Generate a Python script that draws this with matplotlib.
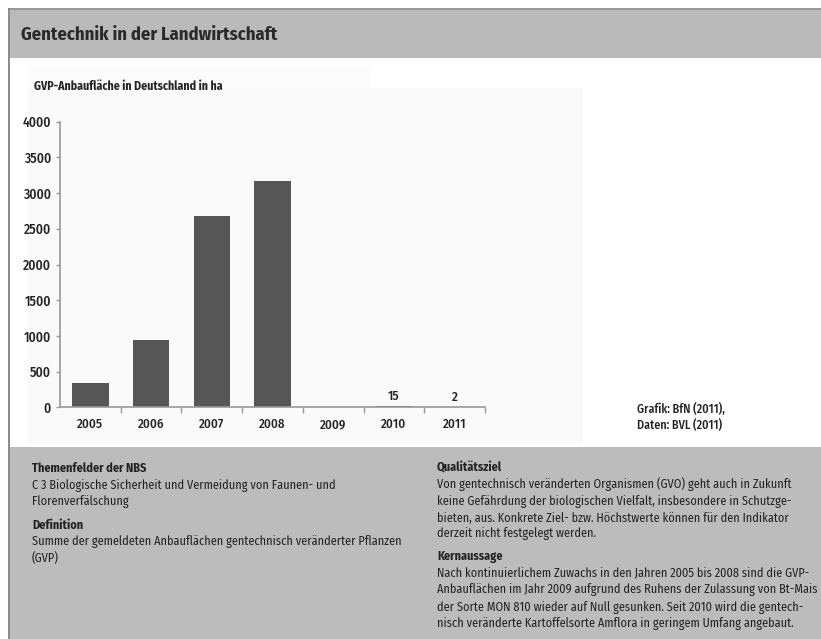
import matplotlib.pyplot as plt
from matplotlib.patches import Rectangle

# GVP-Anbaufläche in Deutschland (ha)
years = ['2005', '2006', '2007', '2008', '2009', '2010', '2011']
area_ha = [342, 947, 2685, 3171, 0, 15, 2]
labelled = {'2010': 15, '2011': 2}
y_ticks = [0, 500, 1000, 1500, 2000, 2500, 3000, 3500, 4000]

W, H = 821, 639
FONT = ['Fira Sans Condensed', 'Liberation Sans', 'DejaVu Sans']
plt.rcParams['font.family'] = FONT
TXT = '#222222'
BODY = 8.8

fig = plt.figure(figsize=(W / 100, H / 100), dpi=100)
fig.patch.set_facecolor('white')


def px_rect(x0, y0, x1, y1, color, z=-10):
    # rectangle given in pixel coords (origin top-left)
    fig.patches.append(Rectangle((x0 / W, 1 - y1 / H), (x1 - x0) / W, (y1 - y0) / H,
                                 transform=fig.transFigure, facecolor=color,
                                 edgecolor='none', zorder=z))


def px_text(x, y, s, **kw):
    kw.setdefault('color', TXT)
    fig.text(x / W, 1 - y / H, s, **kw)


# header band, chart panel, info band, frame lines
px_rect(9, 9, W, 58, '#bababa')
px_rect(9, 8, W, 10, '#999999', -5)
px_rect(28, 88, 583, 444, '#fafafa')
px_rect(28, 66, 370, 88, '#fbfbfb')
px_rect(9, 447, W, H, '#bcbcbc')
px_rect(8, 8, 10, H, '#8c8c8c', -5)

px_text(21, 35, 'Gentechnik in der Landwirtschaft', fontsize=13.3,
        fontweight='bold', va='center', color='#2a2a2a')
px_text(34, 86, 'GVP-Anbaufläche in Deutschland in ha', fontsize=8.5,
        fontweight='bold', va='center')

# bar chart
ax = fig.add_axes([60 / W, 1 - 407.3 / H, 425 / W, 285.6 / H])
ax.patch.set_alpha(0)
x = range(len(years))
ax.bar(x, area_ha, width=0.6, color='#565656', zorder=2)
ax.set_xlim(-0.5, len(years) - 0.5)
ax.set_ylim(0, 4000)
ax.set_yticks(y_ticks)
ax.set_yticklabels([str(v) for v in y_ticks], fontsize=9.8, color=TXT, fontweight='medium')
ax.set_xticks(list(x))
ax.set_xticklabels(years, fontsize=9.3, color=TXT, fontweight='medium')
ax.set_xticks([i + 0.5 for i in x], minor=True)
ax.tick_params(axis='x', which='major', length=0, pad=8)
ax.tick_params(axis='x', which='minor', length=4, width=1, color='#999999', direction='out')
ax.tick_params(axis='y', length=3, width=1, color='#999999', pad=3.5)
for side in ['top', 'right']:
    ax.spines[side].set_visible(False)
for side in ['left', 'bottom']:
    ax.spines[side].set_color('#999999')
    ax.spines[side].set_linewidth(1.2)

for i, yr in enumerate(years):
    if yr in labelled:
        ax.text(i, labelled[yr] + 140, str(labelled[yr]), ha='center', va='center',
                fontsize=9.3, color=TXT, fontweight='medium')

px_text(637, 409, 'Grafik: BfN (2011),', fontsize=8.7, va='center', fontweight='medium')
px_text(637, 425, 'Daten: BVL (2011)', fontsize=8.7, va='center', fontweight='medium')

# info texts below the chart
left_col = [
    ('Themenfelder der NBS', True),
    ('C 3 Biologische Sicherheit und Vermeidung von Faunen- und', False),
    ('Florenverfälschung', False),
    ('Definition', True),
    ('Summe der gemeldeten Anbauflächen gentechnisch veränderter Pflanzen', False),
    ('(GVP)', False),
]
left_y = [468, 485, 502, 525, 541, 558]
for (s, bold), y in zip(left_col, left_y):
    px_text(32, y, s, fontsize=BODY, va='center',
            fontweight='bold' if bold else 'normal')

right_col = [
    ('Qualitätsziel', True),
    ('Von gentechnisch veränderten Organismen (GVO) geht auch in Zukunft', False),
    ('keine Gefährdung der biologischen Vielfalt, insbesondere in Schutzge-', False),
    ('bieten, aus. Konkrete Ziel- bzw. Höchstwerte können für den Indikator', False),
    ('derzeit nicht festgelegt werden.', False),
    ('Kernaussage', True),
    ('Nach kontinuierlichem Zuwachs in den Jahren 2005 bis 2008 sind die GVP-', False),
    ('Anbauflächen im Jahr 2009 aufgrund des Ruhens der Zulassung von Bt-Mais', False),
    ('der Sorte MON 810 wieder auf Null gesunken. Seit 2010 wird die gentech-', False),
    ('nisch veränderte Kartoffelsorte Amflora in geringem Umfang angebaut.', False),
]
right_y = [468, 484, 501, 518, 534, 557, 573, 590, 607, 623]
for (s, bold), y in zip(right_col, right_y):
    px_text(437, y, s, fontsize=BODY, va='center',
            fontweight='bold' if bold else 'normal')

fig.savefig('out.png', dpi=100)
